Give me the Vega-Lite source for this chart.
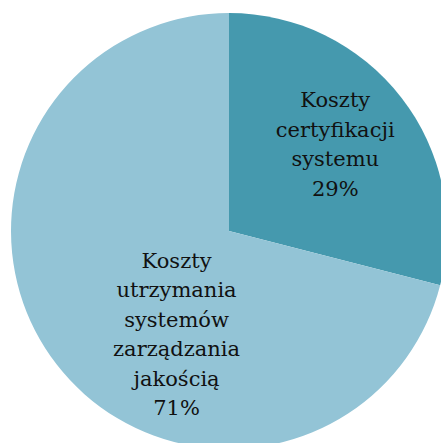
{
  "$schema": "https://vega.github.io/schema/vega-lite/v6.json",
  "autosize": {"type": "none"},
  "padding": 0,
  "width": 458,
  "height": 462,
  "background": "white",
  "view": {"stroke": null},
  "data": {
    "values": [
      {"category": "Koszty certyfikacji systemu", "value": 29, "label": "Koszty certyfikacji systemu 29%"},
      {"category": "Koszty utrzymania systemów zarządzania jakością", "value": 71, "label": "Koszty utrzymania systemów zarządzania jakością 71%"}
    ]
  },
  "encoding": {
    "theta": {"field": "value", "type": "quantitative", "stack": true},
    "detail": {"field": "category", "type": "nominal"}
  },
  "layer": [
    {
      "mark": {"type": "arc", "outerRadius": 218},
      "encoding": {
        "color": {
          "field": "category",
          "type": "nominal",
          "legend": null,
          "scale": {
            "domain": ["Koszty certyfikacji systemu", "Koszty utrzymania systemów zarządzania jakością"],
            "range": ["#4599ae", "#93c4d6"]
          }
        }
      }
    },
    {
      "mark": {"type": "text", "radius": 137, "dx": -2, "dy": -46, "font": "DejaVu Serif", "fontSize": 21, "lineHeight": 29.5, "lineBreak": " ", "align": "center", "baseline": "middle", "color": "#111111"},
      "encoding": {
        "text": {"condition": {"test": "datum.value === 29", "field": "label"}, "value": ""}
      }
    },
    {
      "mark": {"type": "text", "radius": 117, "dx": 40, "dy": -41, "font": "DejaVu Serif", "fontSize": 21, "lineHeight": 29.5, "lineBreak": " ", "align": "center", "baseline": "middle", "color": "#111111"},
      "encoding": {
        "text": {"condition": {"test": "datum.value === 71", "field": "label"}, "value": ""}
      }
    }
  ]
}
